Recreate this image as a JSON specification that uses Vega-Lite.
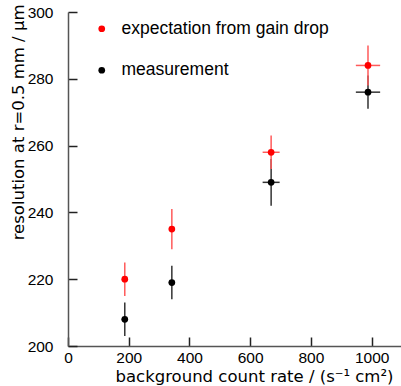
{
  "$schema": "https://vega.github.io/schema/vega-lite/v6.json",
  "autosize": {"type": "none"},
  "padding": {"left": 68, "top": 12, "right": 0, "bottom": 40},
  "width": 334,
  "height": 334,
  "background": "white",
  "config": {"view": {"stroke": null}, "font": "Liberation Sans", "axis": {"ticks": true, "tickWidth": 1.5, "tickColor": "#222222", "tickOpacity": 1}},
  "data": {"values": [
    {"series": "measurement", "x": 187, "xlo": 177, "xhi": 197, "y": 208, "ylo": 203, "yhi": 213},
    {"series": "measurement", "x": 342, "xlo": 332, "xhi": 352, "y": 219, "ylo": 214, "yhi": 224},
    {"series": "measurement", "x": 669, "xlo": 641, "xhi": 697, "y": 249, "ylo": 242, "yhi": 256},
    {"series": "measurement", "x": 988, "xlo": 948, "xhi": 1028, "y": 276, "ylo": 271, "yhi": 281},
    {"series": "expectation from gain drop", "x": 187, "xlo": 177, "xhi": 197, "y": 220, "ylo": 215, "yhi": 225},
    {"series": "expectation from gain drop", "x": 342, "xlo": 332, "xhi": 352, "y": 235, "ylo": 229, "yhi": 241},
    {"series": "expectation from gain drop", "x": 669, "xlo": 641, "xhi": 697, "y": 258, "ylo": 253, "yhi": 263},
    {"series": "expectation from gain drop", "x": 988, "xlo": 948, "xhi": 1028, "y": 284, "ylo": 278, "yhi": 290}
  ]},
  "layer": [
    {
      "mark": {"type": "rule", "strokeWidth": 1.5},
      "encoding": {
        "x": {"field": "x", "type": "quantitative", "scale": {"domain": [0, 1100], "nice": false},
          "title": "background count rate / (s⁻¹ cm²)",
          "axis": {"values": [0,50,100,150,200,250,300,350,400,450,500,550,600,650,700,750,800,850,900,950,1000,1050,1100],
            "format": "d",
            "labelExpr": "datum.value % 200 === 0 ? datum.label : ''", "labelOverlap": false, "labelFlush": false,
            "grid": false, "tickSize": {"condition": {"test": "datum.value % 200 === 0", "value": -9}, "value": -5},
            "labelPadding": 13, "labelFontSize": 15.5, "labelColor": "black", "labelBaseline": "top",
            "domainColor": "#555", "domainWidth": 1.5,
            "titleFont": "DejaVu Sans", "titleFontSize": 16.5, "titleFontWeight": "normal", "titleColor": "black",
            "titleAnchor": "end", "titleAlign": "right", "titleX": 325, "titleY": 30, "titleBaseline": "middle"}},
        "y": {"field": "ylo", "type": "quantitative", "scale": {"domain": [200, 300], "nice": false, "zero": false},
          "title": "resolution at r=0.5 mm / μm",
          "axis": {"values": [200,205,210,215,220,225,230,235,240,245,250,255,260,265,270,275,280,285,290,295,300],
            "labelExpr": "datum.value % 20 === 0 ? datum.label : ''", "labelOverlap": false, "labelFlush": false,
            "grid": false, "tickSize": {"condition": {"test": "datum.value % 20 === 0", "value": -9}, "value": -5},
            "labelPadding": 24, "labelFontSize": 15.5, "labelColor": "black", "labelBaseline": "middle",
            "domainColor": "#555", "domainWidth": 1.5,
            "titleFont": "DejaVu Sans", "titleFontSize": 16.5, "titleFontWeight": "normal", "titleColor": "black",
            "titleAnchor": "end", "titleAlign": "right", "titleAngle": 270, "titleX": -50, "titleY": -8, "titleBaseline": "middle"}},
        "y2": {"field": "yhi"},
        "color": {"condition": {"test": "datum.series === 'measurement'", "value": "#333333"}, "value": "#ff5a5a"}
      }
    },
    {
      "mark": {"type": "rule", "strokeWidth": 1.5},
      "encoding": {
        "x": {"field": "xlo", "type": "quantitative", "title": "background count rate / (s⁻¹ cm²)"},
        "x2": {"field": "xhi"},
        "y": {"field": "y", "type": "quantitative", "title": "resolution at r=0.5 mm / μm"},
        "color": {"condition": {"test": "datum.series === 'measurement'", "value": "#333333"}, "value": "#ff5a5a"}
      }
    },
    {
      "mark": {"type": "circle", "size": 45, "opacity": 1},
      "encoding": {
        "x": {"field": "x", "type": "quantitative", "title": "background count rate / (s⁻¹ cm²)"},
        "y": {"field": "y", "type": "quantitative", "title": "resolution at r=0.5 mm / μm"},
        "color": {"field": "series", "type": "nominal",
          "scale": {"domain": ["expectation from gain drop", "measurement"], "range": ["#ff0000", "#000000"]},
          "legend": {"orient": "none", "legendX": 25, "legendY": 8, "title": null, "padding": 0, "rowPadding": 22.5,
            "labelFontSize": 17.5, "labelFont": "Liberation Sans", "labelLimit": 400, "symbolSize": 45, "symbolType": "circle",
            "labelOffset": 11, "symbolStrokeWidth": 0,
            "encode": {"labels": {"update": {"fill": {"signal": "datum.value === 'measurement' ? 'black' : '#ff0000'"}}}}}}
      }
    }
  ]
}
